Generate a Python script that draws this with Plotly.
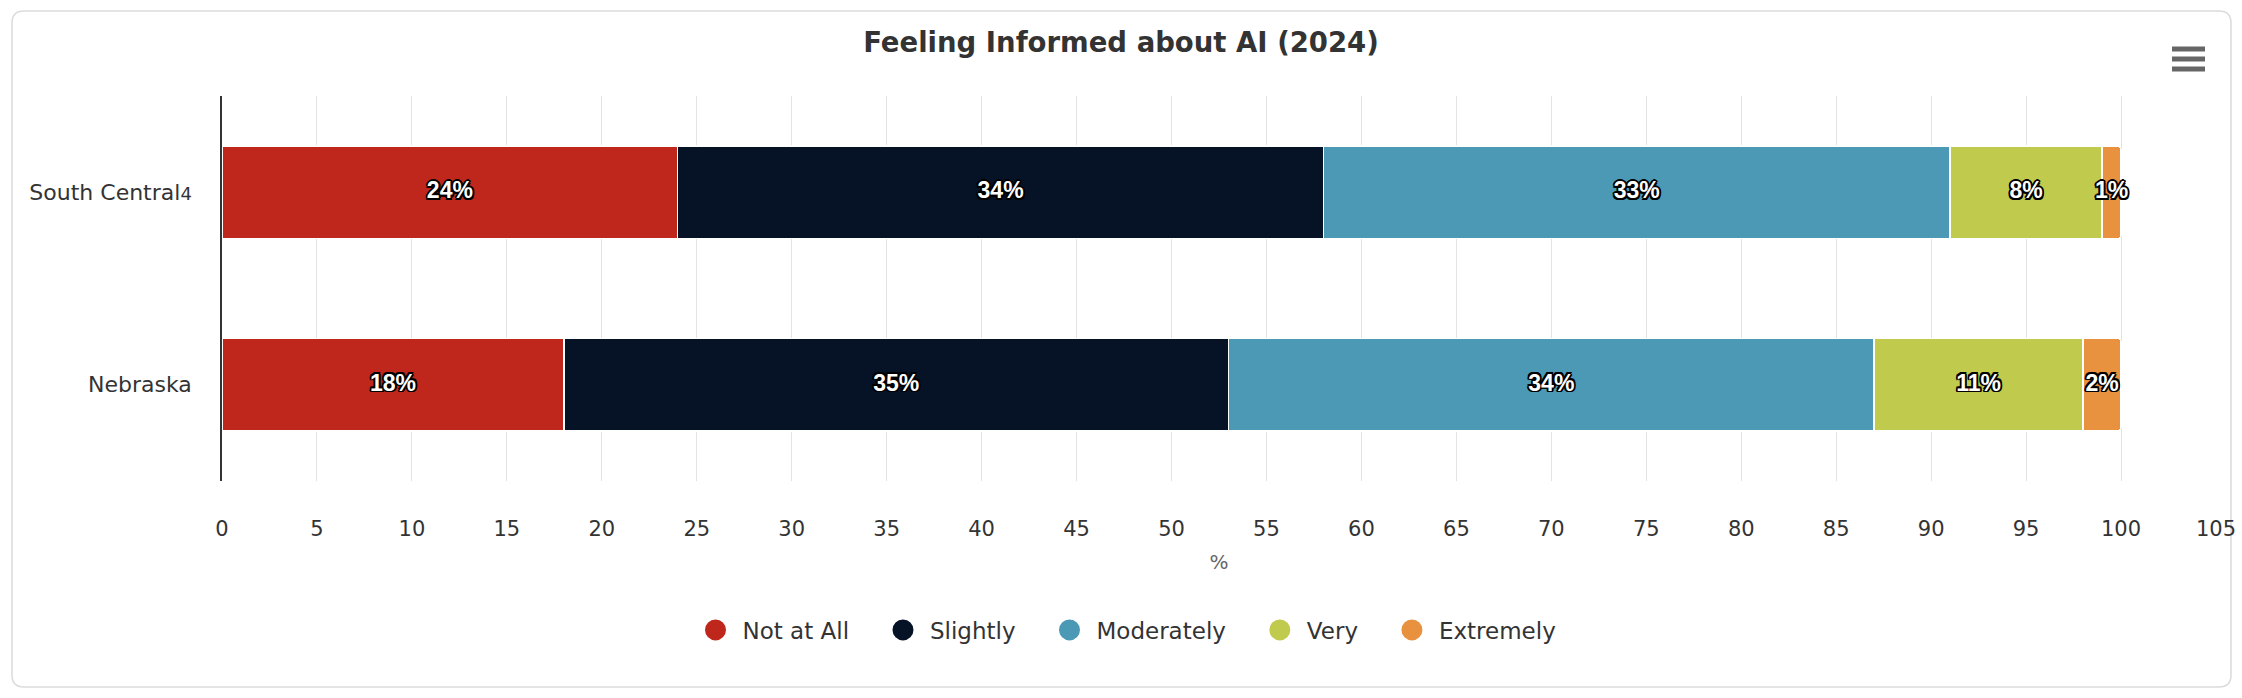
import numpy as np
import plotly.graph_objects as go

# ---- data ----
regions = ["South Central<span style='font-size:18px'>4</span>", "Nebraska"]
series_names = ["Not at All", "Slightly", "Moderately", "Very", "Extremely"]
south_central = [24, 34, 33, 8, 1]
nebraska = [18, 35, 34, 11, 2]
colors = ["#bf271c", "#061226", "#4b99b5", "#c0cb4e", "#e8913e"]
x_ticks = list(range(0, 106, 5))
x_tick_labels = [str(t) for t in x_ticks]

# ---- layout geometry (px) ----
W, H = 2242, 698
ML, MR, MT, MB = 222, 26, 96, 217
PW = W - ML - MR
PH = H - MT - MB


def px(xp):
    return (xp - ML) / PW


def py(yp):
    return (H - MB - yp) / PH


fig = go.Figure()
shadow = ("-1.5px -1.5px 0.5px #000, 1.5px -1.5px 0.5px #000, -1.5px 1.5px 0.5px #000, "
          "1.5px 1.5px 0.5px #000, 0 -1.8px 0 #000, 0 1.8px 0 #000, "
          "-1.8px 0 0 #000, 1.8px 0 0 #000")

table = np.array([south_central, nebraska], dtype=float)  # rows: regions
starts = np.cumsum(table, axis=1) - table

for i, name in enumerate(series_names):
    vals = table[:, i]
    fig.add_trace(go.Bar(
        y=regions, x=vals, orientation="h", name=name,
        marker=dict(color=colors[i], line=dict(color="#ffffff", width=1.4)),
        width=0.48, textposition="none",
        showlegend=False,
        hovertemplate="%{y}<br>" + name + ": %{x}%<extra></extra>",
    ))

# data labels centred in each segment
for i, name in enumerate(series_names):
    vals = table[:, i]
    fig.add_trace(go.Scatter(
        y=regions, x=starts[:, i] + vals / 2, mode="text",
        text=[f"{int(v)}%" for v in vals],
        textposition="middle center",
        textfont=dict(family="Liberation Sans", size=23, color="#ffffff",
                      weight="bold", shadow=shadow),
        showlegend=False, hoverinfo="skip", cliponaxis=False,
    ))

# legend-only circle markers (trailing spaces widen item spacing)
pad = "\u00a0\u00a0\u00a0"
for i, name in enumerate(series_names):
    fig.add_trace(go.Scatter(
        x=[None], y=[None], mode="markers",
        name=name + (pad if i < len(series_names) - 1 else ""),
        marker=dict(symbol="circle", size=16, color=colors[i],
                    line=dict(color=colors[i], width=5)),
        showlegend=True, hoverinfo="skip",
    ))

# container border (rounded rect) and menu icon
x0, x1, y0, y1, r = px(12), px(2231), py(11), py(687), 12
rx, ry = r / PW, r / PH
path = (f"M {x0+rx},{y0} L {x1-rx},{y0} Q {x1},{y0} {x1},{y0-ry} "
        f"L {x1},{y1+ry} Q {x1},{y1} {x1-rx},{y1} L {x0+rx},{y1} "
        f"Q {x0},{y1} {x0},{y1+ry} L {x0},{y0-ry} Q {x0},{y0} {x0+rx},{y0} Z")
shapes = [dict(type="path", xref="paper", yref="paper", path=path,
               line=dict(color="#dcdcdc", width=1.6), fillcolor="rgba(0,0,0,0)",
               layer="below")]
for yy in (49, 59, 69):
    shapes.append(dict(type="line", xref="paper", yref="paper",
                       x0=px(2172), x1=px(2205), y0=py(yy), y1=py(yy),
                       line=dict(color="#666666", width=5)))

fig.update_layout(
    width=W, height=H, autosize=False,
    margin=dict(l=ML, r=MR, t=MT, b=MB, autoexpand=False),
    paper_bgcolor="#ffffff", plot_bgcolor="#ffffff",
    font=dict(family="DejaVu Sans", color="#333333", size=21),
    barmode="stack", barcornerradius=4,
    title=dict(text="<b>Feeling Informed about AI (2024)</b>",
               font=dict(family="DejaVu Sans", size=27.5, color="#333333"),
               x=0.5, xanchor="center", xref="container",
               y=1 - 42 / H, yanchor="middle", yref="container"),
    xaxis=dict(range=[0, 105], tickvals=x_ticks, ticktext=x_tick_labels,
               showgrid=True, gridcolor="#e3e3e3", gridwidth=1.4,
               zeroline=False, showline=False, ticks="",
               ticklabelstandoff=33, tickangle=0, automargin=False,
               tickfont=dict(size=21, color="#333333"),
               title=dict(text="%", font=dict(size=20, color="#666666"), standoff=14),
               fixedrange=True),
    yaxis=dict(autorange="reversed", showgrid=False, zeroline=False,
               showline=True, linecolor="#333333", linewidth=1.5,
               ticks="", ticklabelstandoff=24, automargin=False,
               tickfont=dict(size=22, color="#333333"),
               fixedrange=True),
    legend=dict(orientation="h", xref="paper", x=px(1125), xanchor="center",
                yref="paper", y=py(630), yanchor="middle",
                traceorder="normal",
                font=dict(size=23, color="#333333"),
                itemwidth=44, bgcolor="rgba(0,0,0,0)",
                itemclick=False, itemdoubleclick=False),
    shapes=shapes,
    bargap=0.52,
)

fig.write_html("out.html", config={"displayModeBar": False},
               post_script="document.body.style.margin='0';"
                           "document.body.style.overflow='hidden';")
